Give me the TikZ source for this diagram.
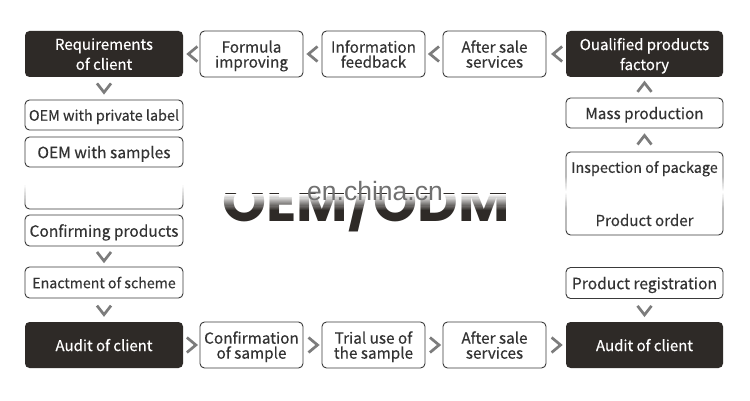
\documentclass[tikz,border=0pt]{standalone}
\usepackage{fontspec}
\newfontfamily\boxfont{Noto Sans CJK SC}[FakeBold=0.35]
\newfontfamily\bigfont{Poppins}
\newfontfamily\wmfont{Liberation Sans}
\usetikzlibrary{calc}
\definecolor{darkc}{HTML}{2E2A27}
\definecolor{bordc}{HTML}{3A3A3A}
\definecolor{txtc}{HTML}{333333}
\definecolor{chevc}{HTML}{7C7C7C}
\definecolor{wmc}{HTML}{707070}
% stepped white fade: x0, x1, y opaque, y transparent
\newcommand\whitefade[4]{%
  \foreach \i [evaluate=\i as \op using 1-\i/14,
               evaluate=\i as \ya using #3+(#4-#3)*\i/14,
               evaluate=\i as \yb using #3+(#4-#3)*(\i+1)/14] in {0,...,13}
    {\fill[white, opacity=\op] (#1,\ya) rectangle (#2,\yb);}}
\tikzset{
  wbox/.style={draw=bordc, line width=0.9pt, rounded corners=4.5pt, fill=white, text=txtc,
    font=\boxfont\fontsize{15.3}{15}\selectfont, align=center, inner sep=0pt, text depth=0pt},
  dbox/.style={fill=darkc, rounded corners=4.5pt, text=white,
    font=\boxfont\fontsize{15}{20}\selectfont, align=center, inner sep=0pt, text depth=0pt},
  fs/.style={font=\boxfont\fontsize{#1}{15}\selectfont},
  lcol/.style={minimum width=158pt},
  rcol/.style={minimum width=157pt},
  mcol/.style={minimum width=103pt, minimum height=46pt},
  chev/.style={draw=chevc, line width=2.7pt},
  chevleft/.pic={\draw[chev] (4.5,-7.5) -- (-4.5,0) -- (4.5,7.5);},
  chevright/.pic={\draw[chev] (-4.5,-7.5) -- (4.5,0) -- (-4.5,7.5);},
  chevdown/.pic={\draw[chev] (-7,-4.5) -- (0,4.5) -- (7,-4.5);},
  chevup/.pic={\draw[chev] (-7,4.5) -- (0,-4.5) -- (7,4.5);},
}
\begin{document}
\begin{tikzpicture}[x=1pt,y=-1pt]
\useasboundingbox (0,0) rectangle (750,401);
\fill[white] (0,0) rectangle (750,401);

% big background title, partly hidden
\begin{scope}
  \clip (150,194) rectangle (560,240);
  \node[font=\bigfont\bfseries\fontsize{56}{56}\selectfont, text=darkc, anchor=base, inner sep=0pt] (title) at (366,222) {OEM/ODM};
\end{scope}
\whitefade{190}{540}{194}{210}
\node[font=\wmfont\fontsize{26.5}{26}\selectfont, text=wmc, anchor=base, inner sep=0pt] (wm) at (375,200.5) {en.china.cn};

% top row
\node[dbox, lcol, minimum height=46pt] (req) at (104,54) {Requirements\\of client};
\node[wbox, mcol] (form) at (251.5,54) {Formula\\improving};
\node[wbox, mcol] (info) at (373.5,54) {Information\\feedback};
\node[wbox, mcol] (aft1) at (494.5,54) {After sale\\services};
\node[dbox, rcol, minimum height=46pt] (qual) at (644.5,54) {Oualified products\\factory};

% left column
\node[wbox, lcol, minimum height=30pt, fs=14.4] (oem1) at (104,115) {OEM with private label};
\node[wbox, lcol, minimum height=30pt, fs=15.6] (oem2) at (104,152) {OEM with samples};
\node[wbox, lcol, minimum height=31pt] (hid) at (104,193.5) {};
\fill[white] (18,170) rectangle (190,184);
\whitefade{18}{190}{184}{203}
\node[wbox, lcol, minimum height=31pt, fs=15.5] (conf) at (104,230.5) {Confirming products};
\node[wbox, lcol, minimum height=31pt, fs=14.2] (enact) at (104,282.5) {Enactment of scheme};
\node[dbox, lcol, minimum height=46pt] (audl) at (104,345) {Audit of client};

% right column
\node[wbox, rcol, minimum height=30pt] (mass) at (644.5,113) {Mass production};
\node[wbox, rcol, minimum height=83pt] (insp) at (644.5,193.5) {};
\whitefade{558}{574}{192}{177}
\whitefade{558}{574}{192}{208}
\whitefade{715}{731}{192}{177}
\whitefade{715}{731}{192}{208}
\node[text=txtc, fs=14.4, inner sep=0pt, text depth=0pt] (insptx) at (644.5,167) {Inspection of package};
\node[text=txtc, fs=15.1, inner sep=0pt, text depth=0pt] (ordtx) at (644.5,220) {Product order};
\node[wbox, rcol, minimum height=31pt, fs=15.6] (reg) at (644.5,283) {Product registration};
\node[dbox, rcol, minimum height=46pt] (audr) at (644.5,345) {Audit of client};

% bottom row
\node[wbox, mcol] (csam) at (251.5,345) {Confirmation\\of sample};
\node[wbox, mcol] (trial) at (373.5,345) {Trial use of\\the sample};
\node[wbox, mcol] (aft2) at (494.5,345) {After sale\\services};

% chevrons top row
\path ($(req.east)!.5!(form.west)+(1.5,0)$) pic{chevleft};
\path ($(form.east)!.5!(info.west)+(0.5,0)$) pic{chevleft};
\path ($(info.east)!.5!(aft1.west)+(0.5,0)$) pic{chevleft};
\path ($(aft1.east)!.5!(qual.west)+(1.5,0)$) pic{chevleft};
% chevrons bottom row
\path ($(audl.east)!.5!(csam.west)$) pic{chevright};
\path ($(csam.east)!.5!(trial.west)+(0.5,0)$) pic{chevright};
\path ($(trial.east)!.5!(aft2.west)+(0.5,0)$) pic{chevright};
\path ($(aft2.east)!.5!(audr.west)$) pic{chevright};
% left column chevrons
\path ($(req.south)!.5!(oem1.north)+(0,-0.5)$) pic{chevdown};
\path ($(conf.south)!.5!(enact.north)$) pic{chevdown};
\path ($(enact.south)!.5!(audl.north)$) pic{chevdown};
% right column chevrons
\path ($(mass.north)!.5!(qual.south)$) pic{chevup};
\path ($(insp.north)!.5!(mass.south)$) pic{chevup};
\path ($(reg.south)!.5!(audr.north)$) pic{chevdown};
\end{tikzpicture}
\end{document}
